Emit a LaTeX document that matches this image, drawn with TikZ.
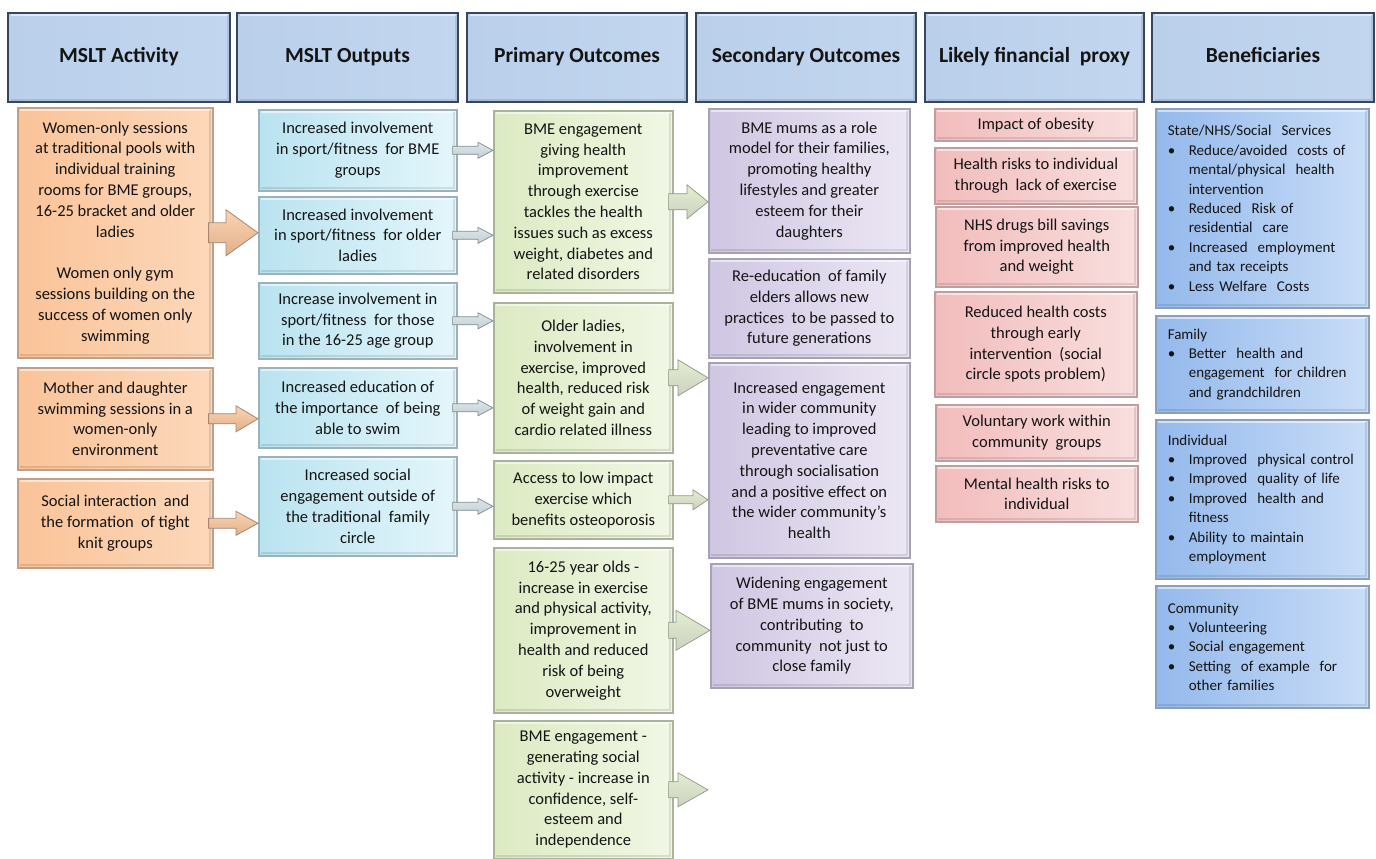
\documentclass[tikz,border=0pt]{standalone}
\usepackage{fontspec}
\setmainfont{Carlito}
\usetikzlibrary{calc}

% palette
\definecolor{ink}{HTML}{141414}
\definecolor{headL}{HTML}{BACFEA}
\definecolor{headM}{HTML}{98B7DF}
\definecolor{headR}{HTML}{C2D6EF}
\definecolor{headB}{HTML}{34475F}
\definecolor{orL}{HTML}{FAC398}
\definecolor{orR}{HTML}{FCD8BA}
\definecolor{orB}{HTML}{C29E84}
\definecolor{cyL}{HTML}{B9E3F0}
\definecolor{cyR}{HTML}{E4F6FB}
\definecolor{cyB}{HTML}{9AB2BA}
\definecolor{grL}{HTML}{DCEAC2}
\definecolor{grR}{HTML}{F1F7E5}
\definecolor{grB}{HTML}{A9B39A}
\definecolor{puL}{HTML}{CFC6E2}
\definecolor{puR}{HTML}{ECE7F4}
\definecolor{puB}{HTML}{A7A1B4}
\definecolor{piL}{HTML}{F2BCBC}
\definecolor{piR}{HTML}{F9DEDE}
\definecolor{piB}{HTML}{BE9E9E}
\definecolor{blL}{HTML}{94B9EC}
\definecolor{blR}{HTML}{C9DDF7}
\definecolor{blB}{HTML}{8A9FBB}

\newcommand\bodyfont{\fontsize{16.5}{20.8}\selectfont}
\newcommand\benfont{\fontsize{15}{19.4}\selectfont}
\newcommand\headfont{\fontsize{21.5}{24}\selectfont\bfseries}

% bulleted lines in the beneficiary boxes
\newcommand\bitem[1]{\makebox[21pt][l]{\textbullet}#1}
\newcommand\bcont[1]{\hspace*{21pt}#1}

% block arrow from a box's right side to a target x, at the source's centre height
% #1 style, #2 source node, #3 target point, #4 shaft half-height, #5 head half-height, #6 head length
\newcommand\blockarrow[6]{%
  \path[#1] let \p1=(#2.east), \p2=(#3) in
    (\x1-5pt,\y1+#4pt) -- (\x2-#6pt,\y1+#4pt) -- (\x2-#6pt,\y1+#5pt) -- (\x2,\y1)
    -- (\x2-#6pt,\y1-#5pt) -- (\x2-#6pt,\y1-#4pt) -- (\x1-5pt,\y1-#4pt) -- cycle;}

\tikzset{
  bevel/.style={path picture={
      \draw[white,opacity=.55,line width=2pt]
        ([xshift=2.5pt,yshift=-2.5pt]path picture bounding box.north west) --
        ([xshift=-2.5pt,yshift=-2.5pt]path picture bounding box.north east);
      \draw[black,opacity=.10,line width=2pt]
        ([xshift=2.5pt,yshift=2.5pt]path picture bounding box.south west) --
        ([xshift=-2.5pt,yshift=2.5pt]path picture bounding box.south east) --
        ([xshift=-2.5pt,yshift=-2.5pt]path picture bounding box.north east);}},
  cell/.style={rectangle, anchor=north west, line width=1.6pt, inner sep=3pt,
    align=center, font=\bodyfont, text=ink, bevel},
  headcell/.style={cell, draw=headB, line width=2pt, font=\headfont,
    text height=15pt, text depth=5pt,
    left color=headL, middle color=headM, right color=headR},
  orcell/.style={cell, draw=orB, left color=orL, right color=orR},
  cycell/.style={cell, draw=cyB, left color=cyL, right color=cyR},
  grcell/.style={cell, draw=grB, left color=grL, right color=grR},
  pucell/.style={cell, draw=puB, left color=puL, right color=puR},
  picell/.style={cell, draw=piB, left color=piL, right color=piR},
  blcell/.style={cell, draw=blB, left color=blL, right color=blR,
    align=left, font=\benfont, inner xsep=12pt, text width=189pt},
  orarrow/.style={draw=orB!85!black, line width=.8pt, line join=miter,
    top color=orR!80!orL, middle color=orR!25!white, bottom color=orL!90!black},
  cyarrow/.style={draw=cyB!80!black, line width=.7pt,
    top color=cyL!40!gray!30!white, middle color=white, bottom color=cyB!60!white},
  grarrow/.style={draw=grB!85!black, line width=.7pt,
    top color=grL!80!white, middle color=grR!30!white, bottom color=grB!60!white},
}

\begin{document}
\begin{tikzpicture}[x=1pt,y=-1pt]
\useasboundingbox (0,0) rectangle (1376,859);

% column headings
\node[headcell, minimum width=222pt, minimum height=89pt] (h1) at (7,12) {MSLT Activity};
\node[headcell, minimum width=221pt, minimum height=89pt] (h2) at (236,12) {MSLT Outputs};
\node[headcell, minimum width=220pt, minimum height=89pt] (h3) at (466,12) {Primary Outcomes};
\node[headcell, minimum width=220pt, minimum height=89pt] (h4) at (695,12) {Secondary Outcomes};
\node[headcell, minimum width=219pt, minimum height=89pt] (h5) at (924,12) {Likely financial\ \ proxy};
\node[headcell, minimum width=222pt, minimum height=89pt] (h6) at (1151,12) {Beneficiaries};

% activities
\node[orcell, minimum width=195pt, minimum height=250pt] (a1) at (17,107)
  {Women-only sessions\\at traditional pools with\\individual training\\rooms for BME groups,\\16-25 bracket and older\\ladies\\ ~ \\Women only gym\\sessions building on the\\success of women only\\swimming};
\node[orcell, minimum width=195pt, minimum height=102pt] (a2) at (17,367)
  {Mother and daughter\\swimming sessions in a\\women-only\\environment};
\node[orcell, minimum width=195pt, minimum height=89pt] (a3) at (17,478)
  {Social interaction\ \ and\\the formation\ \ of tight\\knit groups};

% outputs
\node[cycell, minimum width=198pt, minimum height=81pt] (b1) at (258,109)
  {Increased involvement\\in sport/fitness\ \ for BME\\groups};
\node[cycell, minimum width=198pt, minimum height=77pt] (b2) at (258,196)
  {Increased involvement\\in sport/fitness\ \ for older\\ladies};
\node[cycell, minimum width=198pt, minimum height=76pt] (b3) at (258,282)
  {Increase involvement in\\sport/fitness\ \ for those\\in the 16-25 age group};
\node[cycell, minimum width=198pt, minimum height=80pt] (b4) at (258,367)
  {Increased education of\\the importance\ \ of being\\able to swim};
\node[cycell, minimum width=198pt, minimum height=99pt] (b5) at (258,456)
  {Increased social\\engagement outside of\\the traditional\ \ family\\circle};

% primary outcomes
\node[grcell, minimum width=179pt, minimum height=182pt] (c1) at (493,110)
  {BME engagement\\giving health\\improvement\\through exercise\\tackles the health\\issues such as excess\\weight, diabetes and\\related disorders};
\node[grcell, minimum width=179pt, minimum height=150pt] (c2) at (493,302)
  {Older ladies,\\involvement in\\exercise, improved\\health, reduced risk\\of weight gain and\\cardio related illness};
\node[grcell, minimum width=179pt, minimum height=78pt] (c3) at (493,460)
  {Access to low impact\\exercise which\\benefits osteoporosis};
\node[grcell, minimum width=179pt, minimum height=165pt] (c4) at (493,547)
  {16-25 year olds -\\increase in exercise\\and physical activity,\\improvement in\\health and reduced\\risk of being\\overweight};
\node[grcell, minimum width=179pt, minimum height=138pt] (c5) at (493,720)
  {BME engagement -\\generating social\\activity - increase in\\confidence, self-\\esteem and\\independence};

% secondary outcomes
\node[pucell, minimum width=201pt, minimum height=144pt] (d1) at (708,108)
  {BME mums as a role\\model for their families,\\promoting healthy\\lifestyles and greater\\esteem for their\\daughters};
\node[pucell, minimum width=201pt, minimum height=99pt] (d2) at (708,258)
  {Re-education\ \ of family\\elders allows new\\practices\ \ to be passed to\\future generations};
\node[pucell, minimum width=201pt, minimum height=195pt] (d3) at (708,362)
  {Increased engagement\\in wider community\\leading to improved\\preventative care\\through socialisation\\and a positive effect on\\the wider community's\\health};
\node[pucell, minimum width=202pt, minimum height=124pt] (d4) at (710,563)
  {Widening engagement\\of BME mums in society,\\contributing\ \ to\\community\ \ not just to\\close family};

% financial proxies
\node[picell, minimum width=202pt, minimum height=32pt] (e1) at (934,108) {Impact of obesity};
\node[picell, minimum width=202pt, minimum height=56pt] (e2) at (934,147)
  {Health risks to individual\\through\ \ lack of exercise};
\node[picell, minimum width=202pt, minimum height=80pt] (e3) at (935,206)
  {NHS drugs bill savings\\from improved health\\and weight};
\node[picell, minimum width=202pt, minimum height=105pt] (e4) at (934,291)
  {Reduced health costs\\through early\\intervention\ \ (social\\circle spots problem)};
\node[picell, minimum width=202pt, minimum height=56pt] (e5) at (935,404)
  {Voluntary work within\\community\ \ groups};
\node[picell, minimum width=202pt, minimum height=56pt] (e6) at (935,465)
  {Mental health risks to\\individual};

% beneficiaries
\node[blcell, minimum height=199pt] (f1) at (1155,108)
  {State/NHS/Social\ \ Services\\
   \bitem{Reduce/avoided\ \ costs of}\\
   \bcont{mental/physical\ \ health}\\
   \bcont{intervention}\\
   \bitem{Reduced\ \ Risk of}\\
   \bcont{residential\ \ care}\\
   \bitem{Increased\ \ employment}\\
   \bcont{and tax receipts}\\
   \bitem{Less Welfare\ \ Costs}};
\node[blcell, minimum height=97pt] (f2) at (1155,315)
  {Family\\
   \bitem{Better\ \ health and}\\
   \bcont{engagement\ \ for children}\\
   \bcont{and grandchildren}};
\node[blcell, minimum height=159pt] (f3) at (1155,419)
  {Individual\\
   \bitem{Improved\ \ physical control}\\
   \bitem{Improved\ \ quality of life}\\
   \bitem{Improved\ \ health and}\\
   \bcont{fitness}\\
   \bitem{Ability to maintain}\\
   \bcont{employment}};
\node[blcell, minimum height=122pt] (f4) at (1155,585)
  {Community\\
   \bitem{Volunteering}\\
   \bitem{Social engagement}\\
   \bitem{Setting\ \ of example\ \ for}\\
   \bcont{other families}};

% free end of the last primary-outcome arrow
\coordinate (c5end) at (708,789);

% activities -> outputs
\blockarrow{orarrow}{a1}{b2.west}{10}{23}{32}
\blockarrow{orarrow}{a2}{b4.west}{5}{13}{22}
\blockarrow{orarrow}{a3}{b5.west}{5}{12}{22}

% outputs -> primary outcomes
\blockarrow{cyarrow}{b1}{c1.west}{4}{8}{15}
\blockarrow{cyarrow}{b2}{c1.west}{4}{8}{15}
\blockarrow{cyarrow}{b3}{c2.west}{4}{8}{15}
\blockarrow{cyarrow}{b4}{c2.west}{4}{8}{15}
\blockarrow{cyarrow}{b5}{c3.west}{4}{8}{15}

% primary -> secondary outcomes
\blockarrow{grarrow}{c1}{d1.west}{8}{17}{21}
\blockarrow{grarrow}{c2}{d3.west}{8}{18}{30}
\blockarrow{grarrow}{c3}{d3.west}{4}{10}{15}
\blockarrow{grarrow}{c4}{d4.west}{8}{20}{34}
\blockarrow{grarrow}{c5}{c5end}{8}{17}{30}
\end{tikzpicture}
\end{document}
